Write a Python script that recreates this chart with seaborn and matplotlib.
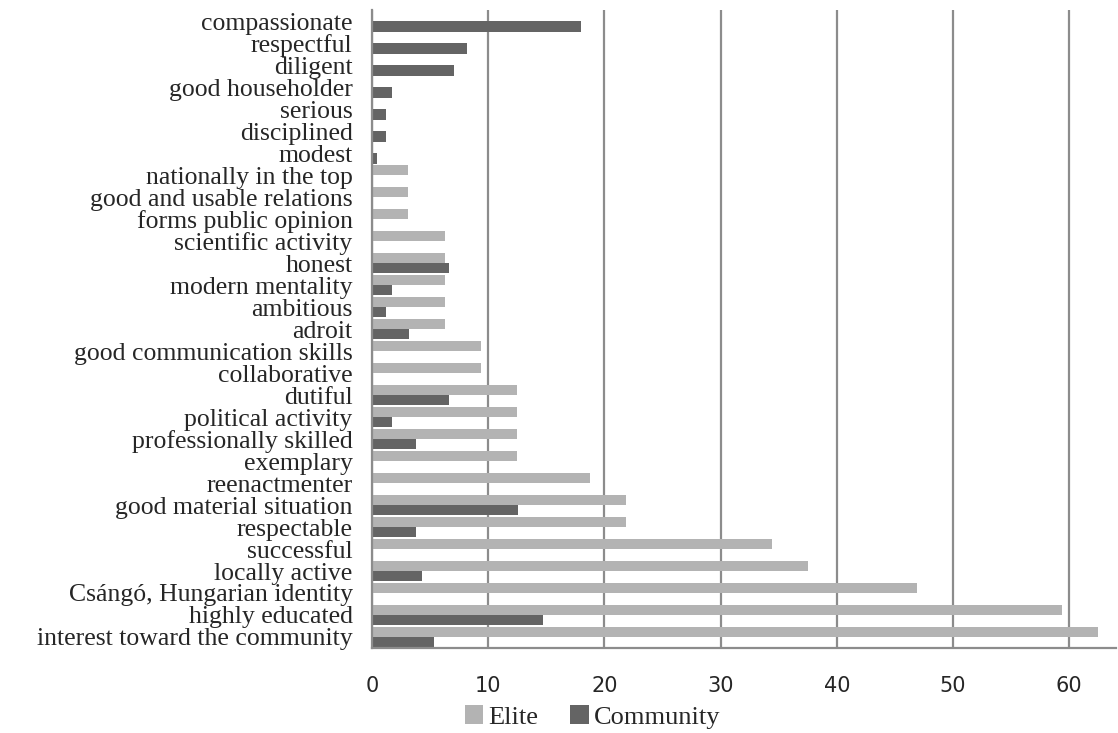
import pandas as pd
import matplotlib
matplotlib.use('Agg')
import matplotlib.pyplot as plt
import seaborn as sns

##Categories listed from the top of the chart to the bottom
traits = ['compassionate', 'respectful', 'diligent', 'good householder', 'serious',
          'disciplined', 'modest', 'nationally in the top', 'good and usable relations',
          'forms public opinion', 'scientific activity', 'honest', 'modern mentality',
          'ambitious', 'adroit', 'good communication skills', 'collaborative', 'dutiful',
          'political activity', 'professionally skilled', 'exemplary', 'reenactmenter',
          'good material situation', 'respectable', 'successful', 'locally active',
          'Csángó, Hungarian identity', 'highly educated', 'interest toward the community']

elite = [0, 0, 0, 0, 0, 0, 0, 3.1, 3.1, 3.1, 6.3, 6.3, 6.3, 6.3, 6.3, 9.4, 9.4, 12.5,
         12.5, 12.5, 12.5, 18.8, 21.9, 21.9, 34.4, 37.5, 46.9, 59.4, 62.5]

community = [18.0, 8.2, 7.1, 1.7, 1.2, 1.2, 0.4, 0, 0, 0, 0, 6.6, 1.7, 1.2, 3.2, 0, 0,
             6.6, 1.7, 3.8, 0, 0, 12.6, 3.8, 0, 4.3, 0, 14.7, 5.3]

x_ticks = [0, 10, 20, 30, 40, 50, 60]

##Long-form table for seaborn
df = pd.DataFrame({
    'trait': traits * 2,
    'value': elite + community,
    'group': ['Elite'] * len(traits) + ['Community'] * len(traits),
})

sns.set_style('white')
plt.rcParams['font.family'] = ['Liberation Serif', 'DejaVu Serif']

fig = plt.figure(figsize=(11.18, 7.33), dpi=100)
ax = fig.add_axes([0.3327, 0.116, 0.6653, 0.870])

sns.barplot(data=df, x='value', y='trait', hue='group', order=traits,
            hue_order=['Elite', 'Community'],
            palette={'Elite': '#b3b3b3', 'Community': '#646464'},
            width=0.94, gap=0, saturation=1, orient='h', ax=ax, legend=True,
            linewidth=0)

ax.set_xlim(0, 64)
ax.set_xticks(x_ticks)
ax.set_xticklabels([str(t) for t in x_ticks], family='DejaVu Sans', fontsize=15)
ax.tick_params(axis='x', length=0, pad=20)
ax.tick_params(axis='y', length=0, pad=14, labelsize=18.5)
ax.set_xlabel('')
ax.set_ylabel('')

##vertical grid lines like the original
ax.xaxis.grid(True, color='#8c8c8c', linewidth=1.6)
ax.set_axisbelow(True)
for side in ['top', 'right']:
    ax.spines[side].set_visible(False)
for side in ['left', 'bottom']:
    ax.spines[side].set_color('#8c8c8c')
    ax.spines[side].set_linewidth(1.6)

##legend under the axis
handles, labels = ax.get_legend_handles_labels()
ax.get_legend().remove()
fig.legend(handles, labels, loc='center', bbox_to_anchor=(0.53, 0.022), ncol=2,
           frameon=False, fontsize=19, handlelength=0.7, handleheight=0.7,
           handletextpad=0.2, columnspacing=1.2, borderaxespad=0)

fig.savefig('out.png', dpi=100)
